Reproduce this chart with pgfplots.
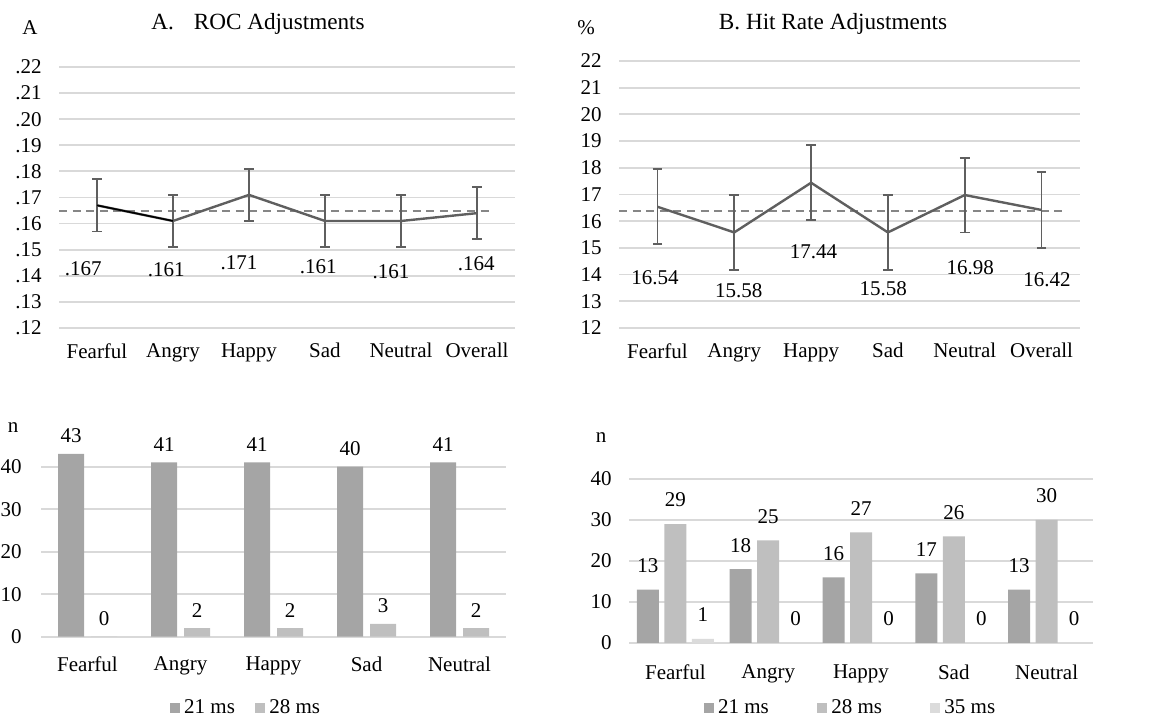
\documentclass[border=0pt]{standalone}
\usepackage{fontspec}
\setmainfont{Liberation Serif}
\usepackage{pgfplots}
\pgfplotsset{compat=1.18}

\definecolor{gridgray}{HTML}{D9D9D9}
\definecolor{linegray}{HTML}{5F5F5F}
\definecolor{dashgray}{HTML}{868686}
\definecolor{barA}{HTML}{A5A5A5}
\definecolor{barB}{HTML}{BFBFBF}
\definecolor{barC}{HTML}{DBDBDB}

\pgfplotsset{
  panel/.style={
    scale only axis,
    axis line style={draw=none},
    tick style={draw=none},
    ymajorgrids,
    grid style={gridgray, line width=0.9pt},
    tick label style={font=\fontsize{10.5}{12}\selectfont},
    /pgf/number format/assume math mode=true,
    clip=false,
  },
  errline/.style={
    linegray, line width=1.2pt, mark=none,
    error bars/.cd, y dir=both, y explicit,
    error bar style={linegray, line width=0.9pt},
    error mark options={rotate=90, linegray, mark size=2.4pt, line width=0.9pt},
  },
  meanline/.style={dashgray, line width=1pt, dash pattern=on 4pt off 2.8pt, mark=none},
  sqlegend/.style={
    legend image code/.code={\fill[##1] (0pt,-2.6pt) rectangle (5.2pt,2.6pt);},
  },
}

\begin{document}
\fontsize{10.5}{12.6}\selectfont
\begin{tikzpicture}
\useasboundingbox (0,0) rectangle (580.5pt,361pt);

% panel titles and unit labels
\node[font=\fontsize{11.6}{14}\selectfont] at (129pt,349pt) {A.\hspace{10pt}ROC Adjustments};
\node[font=\fontsize{11.6}{14}\selectfont] at (416.5pt,349pt) {B. Hit Rate Adjustments};
\node at (15pt,347pt) {A};
\node at (293pt,347pt) {\%};
\node at (6.5pt,147pt) {n};
\node at (300.5pt,142pt) {n};

% A. ROC adjustments
\begin{axis}[panel, at={(29.5pt,197pt)}, anchor=south west,
    width=228pt, height=130.5pt,
    xmin=-0.5, xmax=5.5, ymin=0.12, ymax=0.22,
    xtick={0,1,2,3,4,5},
    xticklabels={Fearful,Angry,Happy,Sad,Neutral,Overall},
    ytick={0.12,0.13,0.14,0.15,0.16,0.17,0.18,0.19,0.20,0.21,0.22},
    yticklabels={.12,.13,.14,.15,.16,.17,.18,.19,.20,.21,.22},
    xticklabel style={yshift=-4pt}, yticklabel style={xshift=-5pt}]
  \addplot[meanline] coordinates {(-0.5,0.1648) (5.21,0.1648)};
  \addplot[errline] coordinates {
    (0,0.167) +- (0,0.010)
    (1,0.161) +- (0,0.010)
    (2,0.171) +- (0,0.010)
    (3,0.161) +- (0,0.010)
    (4,0.161) +- (0,0.010)
    (5,0.164) +- (0,0.010)
  };
  \addplot[black, line width=0.8pt, mark=none] coordinates {(0,0.167) (1,0.161)};
  \node at (axis cs:-0.18,0.1429) {.167};
  \node at (axis cs:0.91,0.1425) {.161};
  \node at (axis cs:1.87,0.1452) {.171};
  \node at (axis cs:2.91,0.1433) {.161};
  \node at (axis cs:3.87,0.1414) {.161};
  \node at (axis cs:4.99,0.1448) {.164};
\end{axis}

% B. Hit rate adjustments
\begin{axis}[panel, at={(309.5pt,197pt)}, anchor=south west,
    width=230.5pt, height=133.5pt,
    xmin=-0.5, xmax=5.5, ymin=12, ymax=22,
    xtick={0,1,2,3,4,5},
    xticklabels={Fearful,Angry,Happy,Sad,Neutral,Overall},
    ytick={12,13,...,22},
    xticklabel style={yshift=-4pt}, yticklabel style={xshift=-5pt}]
  \addplot[meanline] coordinates {(-0.5,16.40) (5.28,16.40)};
  \addplot[errline] coordinates {
    (0,16.54) +- (0,1.40)
    (1,15.58) +- (0,1.40)
    (2,17.44) +- (0,1.40)
    (3,15.58) +- (0,1.40)
    (4,16.98) +- (0,1.40)
    (5,16.42) +- (0,1.42)
  };
  \node at (axis cs:-0.03,13.87) {16.54};
  \node at (axis cs:1.06,13.39) {15.58};
  \node at (axis cs:2.03,14.85) {17.44};
  \node at (axis cs:2.94,13.46) {15.58};
  \node at (axis cs:4.07,14.25) {16.98};
  \node at (axis cs:5.07,13.80) {16.42};
\end{axis}

% C. counts, two durations
\begin{axis}[panel, at={(20.5pt,42.65pt)}, anchor=south west,
    width=232.5pt, height=102pt,
    xmin=-0.5, xmax=4.5, ymin=0, ymax=48,
    xtick={0,1,2,3,4},
    xticklabels={Fearful,Angry,Happy,Sad,Neutral},
    ytick={0,10,20,30,40},
    xticklabel style={yshift=-2pt}, yticklabel style={xshift=-6pt},
    ybar, bar width=13pt, sqlegend,
    nodes near coords,
    every node near coord/.append style={font=\fontsize{10.5}{12}\selectfont, anchor=center, yshift=9pt},
    legend style={at={(0.443,-0.3495)}, anchor=center, draw=none, fill=none,
      legend columns=-1, font=\fontsize{10.5}{12}\selectfont,
      /tikz/every even column/.append style={column sep=8pt}}]
  \addplot[fill=barA, draw=none, bar shift=-8.25pt] coordinates {(0,43) (1,41) (2,41) (3,40) (4,41)};
  \addplot[fill=barB, draw=none, bar shift=8.25pt] coordinates {(0,0) (1,2) (2,2) (3,3) (4,2)};
  \legend{21 ms, 28 ms}
\end{axis}

% D. counts, three durations
\begin{axis}[panel, at={(314.5pt,39.5pt)}, anchor=south west,
    width=232pt, height=82pt,
    xmin=-0.5, xmax=4.5, ymin=0, ymax=40,
    xtick={0,1,2,3,4},
    xticklabels={Fearful,Angry,Happy,Sad,Neutral},
    ytick={0,10,20,30,40},
    xticklabel style={yshift=-3pt}, yticklabel style={xshift=-5pt},
    ybar, bar width=11pt, sqlegend,
    nodes near coords,
    every node near coord/.append style={font=\fontsize{10.5}{12}\selectfont, anchor=center, yshift=12pt},
    legend style={at={(0.4795,-0.396)}, anchor=center, draw=none, fill=none,
      legend columns=-1, font=\fontsize{10.5}{12}\selectfont,
      /tikz/every even column/.append style={column sep=22pt}}]
  \addplot[fill=barA, draw=none, bar shift=-13.75pt] coordinates {(0,13) (1,18) (2,16) (3,17) (4,13)};
  \addplot[fill=barB, draw=none, bar shift=0pt] coordinates {(0,29) (1,25) (2,27) (3,26) (4,30)};
  \addplot[fill=barC, draw=none, bar shift=13.75pt] coordinates {(0,1) (1,0) (2,0) (3,0) (4,0)};
  \legend{21 ms, 28 ms, 35 ms}
\end{axis}
\end{tikzpicture}
\end{document}
